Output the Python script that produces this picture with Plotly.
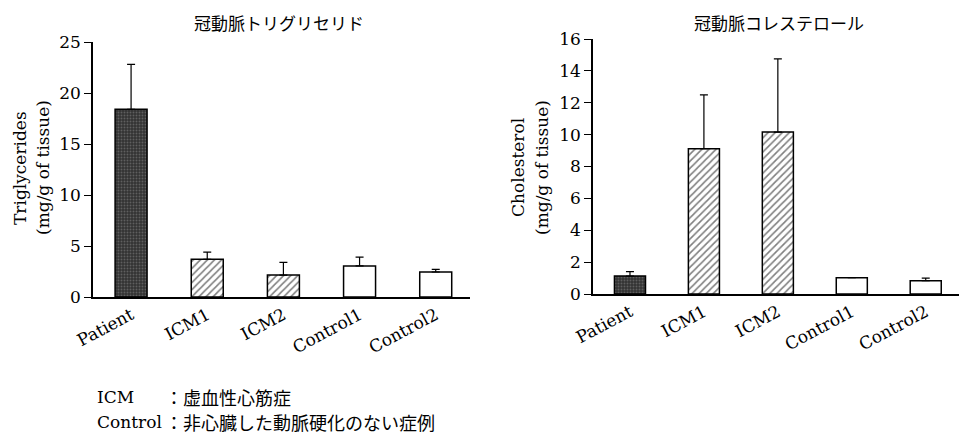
import plotly.graph_objects as go

# page body has an 8px default margin; figure is sized to fit inside it
PAGE_W, PAGE_H = 967, 443
OFF = 8
W, H = PAGE_W - 2 * OFF, PAGE_H - 2 * OFF

categories = ["Patient", "ICM1", "ICM2", "Control1", "Control2"]
tg_values = [18.4, 3.7, 2.15, 3.05, 2.45]
tg_upper = [22.8, 4.4, 3.4, 3.9, 2.7]
ch_values = [1.13, 9.12, 10.16, 1.02, 0.83]
ch_upper = [1.4, 12.5, 14.75, 1.02, 1.0]

title_tg = "冠動脈トリグリセリド"
title_ch = "冠動脈コレステロール"
ylab_tg = ["Triglycerides", "(mg/g of tissue)"]
ylab_ch = ["Cholesterol", "(mg/g of tissue)"]
note_keys = ["ICM", "Control"]
note_vals = ["：虚血性心筋症", "：非心臓した動脈硬化のない症例"]

SERIF = "DejaVu Serif"
CJK = "Noto Sans CJK JP"

groups = [
    ([0], dict(shape=".", bgcolor="#333333", fgcolor="#8c8c8c", size=3, solidity=0.3), "#333333"),
    ([1, 2], dict(shape="/", bgcolor="white", fgcolor="black", size=5, solidity=0.32), "white"),
    ([3, 4], dict(shape="", bgcolor="white", fgcolor="white", size=5, solidity=0.2), "white"),
]


def add_bars(fig, vals, upper, xa, ya):
    for idx, pat, col in groups:
        xs = [categories[i] for i in idx]
        ys = [vals[i] for i in idx]
        err = [upper[i] - vals[i] for i in idx]
        fig.add_trace(go.Bar(
            x=xs, y=ys, xaxis=xa, yaxis=ya, width=0.42,
            marker=dict(color=col, line=dict(color="black", width=1.5), pattern=pat),
            error_y=dict(type="data", symmetric=False, array=err,
                         arrayminus=[0] * len(err), color="black",
                         thickness=1.2, width=4),
            showlegend=False, hoverinfo="skip",
        ))


fig = go.Figure()
add_bars(fig, tg_values, tg_upper, "x", "y")
add_bars(fig, ch_values, ch_upper, "x2", "y2")


def px(x):
    return min(1.0, (x - OFF) / W)


def py(y):
    return 1 - (y - OFF) / H


xcommon = dict(showline=True, linecolor="black", linewidth=1.5, ticks="",
               tickangle=-28, tickfont=dict(family=SERIF, size=17, color="black"),
               showgrid=False, zeroline=False, range=[-0.5, 4.45], fixedrange=True,
               automargin=False, categoryorder="array", categoryarray=categories)
ycommon = dict(showline=True, linecolor="black", linewidth=1.5, ticks="outside",
               ticklen=7, tickwidth=1.2, tickcolor="black",
               tickfont=dict(family=SERIF, size=17, color="black"),
               showgrid=False, zeroline=False, automargin=False)

fig.update_layout(
    width=W, height=H, autosize=False,
    margin=dict(l=0, r=0, t=0, b=0, autoexpand=False),
    plot_bgcolor="white", paper_bgcolor="white",
    barmode="overlay",
    xaxis=dict(domain=[px(93), px(470)], anchor="y", **xcommon),
    yaxis=dict(domain=[py(297), py(42)], anchor="x", range=[0, 25], dtick=5, **ycommon),
    xaxis2=dict(domain=[px(593), 1.0], anchor="y2", **xcommon),
    yaxis2=dict(domain=[py(294), py(39)], anchor="x2", range=[0, 16], dtick=2, **ycommon),
)

ann = []
ann.append(dict(x=px(279), y=py(22), text=title_tg,
                font=dict(family=CJK, size=17, color="black")))
ann.append(dict(x=px(779), y=py(22), text=title_ch,
                font=dict(family=CJK, size=17, color="black")))
for xs, lines in (((20, 43), ylab_tg), ((518, 542), ylab_ch)):
    for xx, t in zip(xs, lines):
        ann.append(dict(x=px(xx), y=py(168), text=t, textangle=-90,
                        font=dict(family=SERIF, size=17, color="black")))
for a in ann:
    a.update(showarrow=False, xref="paper", yref="paper", xanchor="center", yanchor="middle")

for i, (k, v) in enumerate(zip(note_keys, note_vals)):
    yy = 397 + 25 * i
    ann.append(dict(x=px(95), y=py(yy), text=k, showarrow=False, xanchor="left",
                    yanchor="middle", xref="paper", yref="paper",
                    font=dict(family=SERIF, size=17, color="black")))
    ann.append(dict(x=px(163), y=py(yy), text=v, showarrow=False, xanchor="left",
                    yanchor="middle", xref="paper", yref="paper",
                    font=dict(family=CJK, size=18, color="black")))
fig.update_layout(annotations=ann)

fig.write_html("out.html")
